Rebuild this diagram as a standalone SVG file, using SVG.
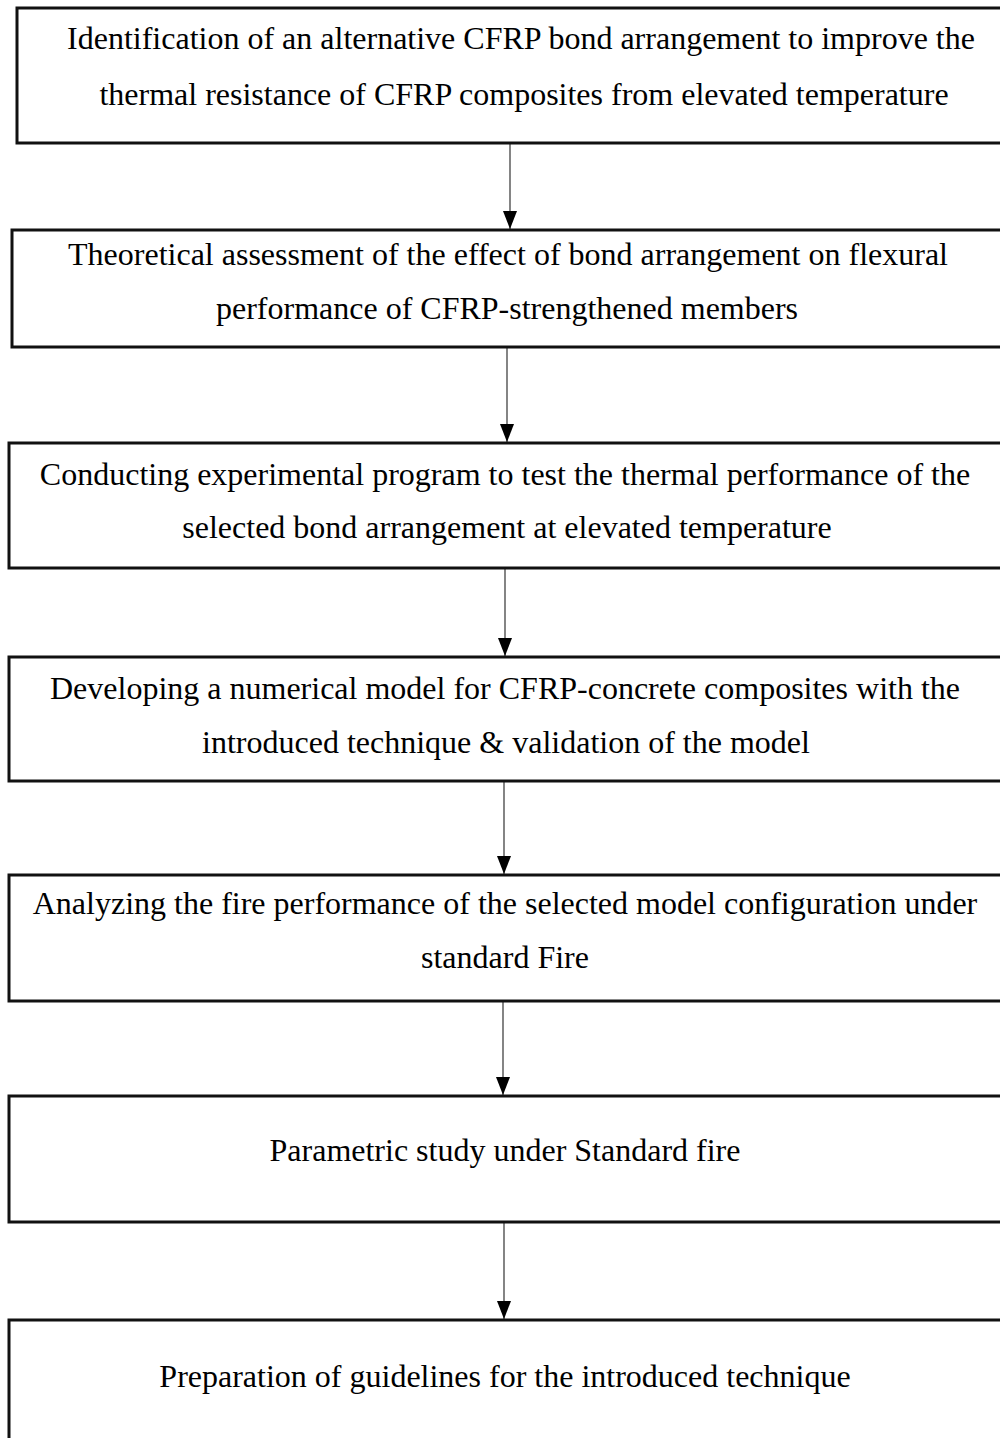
<svg xmlns="http://www.w3.org/2000/svg" width="1000" height="1438" viewBox="0 0 1000 1438">
<style>
.box{fill:#fff;stroke:#111;stroke-width:3}
.t{font-family:"Liberation Serif","Times New Roman",serif;font-size:32px;fill:#000;text-anchor:middle}
.c{stroke:#333;stroke-width:1.2;fill:none}
</style>
<defs>
<marker id="ah" markerWidth="18" markerHeight="14" refX="18" refY="7" orient="auto" markerUnits="userSpaceOnUse" viewBox="0 0 18 14">
<path d="M0,0 L18,7 L0,14 Z" fill="#000"/>
</marker>
</defs>
<rect width="1000" height="1438" fill="#fff"/>
<g id="connectors">
<line class="c" x1="510" y1="143" x2="510" y2="229" marker-end="url(#ah)"/>
<line class="c" x1="507" y1="347" x2="507" y2="442" marker-end="url(#ah)"/>
<line class="c" x1="505" y1="568" x2="505" y2="656" marker-end="url(#ah)"/>
<line class="c" x1="504" y1="781" x2="504" y2="874" marker-end="url(#ah)"/>
<line class="c" x1="503" y1="1001" x2="503" y2="1095" marker-end="url(#ah)"/>
<line class="c" x1="504" y1="1222" x2="504" y2="1319" marker-end="url(#ah)"/>
</g>
<g id="n1">
<rect class="box" x="17" y="8" width="1000" height="135"/>
<text class="t" x="521" y="49">Identification of an alternative CFRP bond arrangement to improve the</text>
<text class="t" x="524" y="105">thermal resistance of CFRP composites from elevated temperature</text>
</g>
<g id="n2">
<rect class="box" x="12" y="230" width="1000" height="117"/>
<text class="t" x="508" y="265">Theoretical assessment of the effect of bond arrangement on flexural</text>
<text class="t" x="507" y="319">performance of CFRP-strengthened members</text>
</g>
<g id="n3">
<rect class="box" x="9" y="443" width="1000" height="125"/>
<text class="t" x="505" y="485">Conducting experimental program to test the thermal performance of the</text>
<text class="t" x="507" y="538">selected bond arrangement at elevated temperature</text>
</g>
<g id="n4">
<rect class="box" x="9" y="657" width="1000" height="124"/>
<text class="t" x="505" y="699">Developing a numerical model for CFRP-concrete composites with the</text>
<text class="t" x="506" y="753">introduced technique &amp; validation of the model</text>
</g>
<g id="n5">
<rect class="box" x="9" y="875" width="1000" height="126"/>
<text class="t" x="505" y="914">Analyzing the fire performance of the selected model configuration under</text>
<text class="t" x="505" y="968">standard Fire</text>
</g>
<g id="n6">
<rect class="box" x="9" y="1096" width="1000" height="126"/>
<text class="t" x="505" y="1161">Parametric study under Standard fire</text>
</g>
<g id="n7">
<rect class="box" x="9" y="1320" width="1000" height="130"/>
<text class="t" x="505" y="1387">Preparation of guidelines for the introduced technique</text>
</g>
</svg>
